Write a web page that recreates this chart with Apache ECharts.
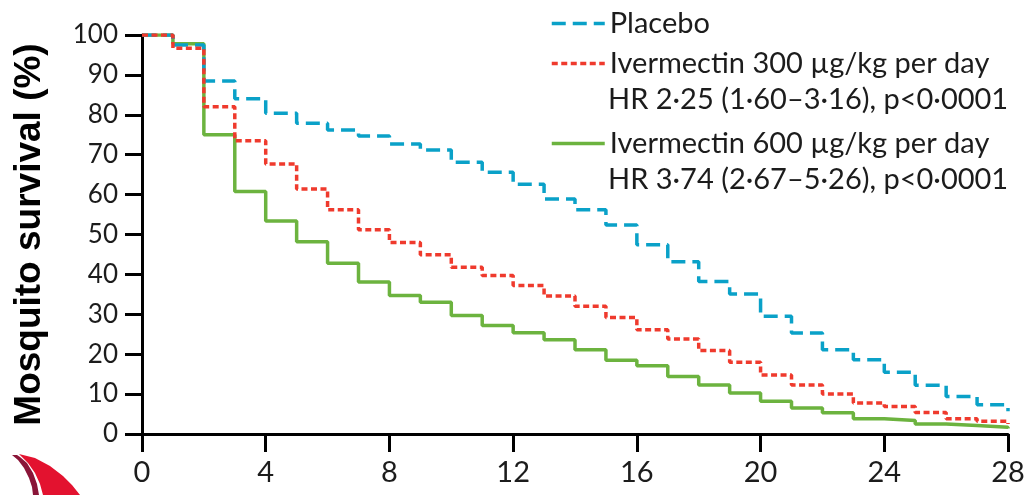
<!DOCTYPE html>
<html><head><meta charset="utf-8">
<script src="https://cdn.jsdelivr.net/npm/echarts@6/dist/echarts.min.js"></script>
<style>html,body{margin:0;padding:0;background:#fff}#c{width:1024px;height:495px}</style>
</head><body><div id="c"></div>
<script>
const days = [0,1,2,3,4,5,6,7,8,9,10,11,12,13,14,15,16,17,18,19,20,21,22,23,24,25,26,27,28];
const placebo = [100,97.5,88.5,84.0,80.4,77.9,76.2,74.7,72.7,71.2,68.1,65.6,62.6,58.9,56.2,52.4,47.4,43.2,38.2,35.1,29.5,25.3,21.1,18.6,15.5,12.2,9.4,7.3,5.7];
const ivm300 = [100,96.7,82.0,73.5,67.7,61.4,56.2,51.2,48.0,44.9,41.8,39.7,37.2,34.6,32.0,29.2,26.1,23.8,20.9,18.0,14.8,12.3,10.0,7.8,6.9,5.4,3.8,3.2,2.5];
const ivm600 = [100,97.8,75.0,60.8,53.4,48.2,42.8,38.1,34.7,33.0,29.7,27.2,25.4,23.6,21.1,18.5,17.1,14.4,12.3,10.3,8.2,6.5,5.3,3.8,3.4,2.5,2.1,1.7,1.4];
const seriesNames = ['Placebo','Ivermectin 300 µg/kg per day','Ivermectin 600 µg/kg per day'];
const hrTexts = ['HR 2·25 (1·60–3·16), p<0·0001','HR 3·74 (2·67–5·26), p<0·0001'];
const yAxisTitle = 'Mosquito survival (%)';

const C_BLUE = '#0aa1c8', C_RED = '#ef3a2d', C_GREEN = '#6cb33f';
const DASH_BLUE = [14,7], DASH_RED = [6,3.5];
const txt = '#1c1c1c';
const chart = echarts.init(document.getElementById('c'), null, {renderer:'canvas'});
const pts = v => days.map((d,i)=>[d, v[i]]);
const legendBase = {orient:'vertical', left:545, itemWidth:53, itemHeight:14, selectedMode:false,
  itemStyle:{opacity:0},
  textStyle:{fontFamily:'Lato', fontSize:29, color:txt}};
chart.setOption({
  animation:false,
  grid:{left:142, right:16, top:35, bottom:61, containLabel:false, outerBoundsMode:'none'},
  legend:[
    Object.assign({}, legendBase, {data:[seriesNames[0]], top:4, lineStyle:{width:3.5, type:DASH_BLUE, color:C_BLUE}}),
    Object.assign({}, legendBase, {data:[seriesNames[1]], top:44, lineStyle:{width:3.5, type:DASH_RED, color:C_RED}}),
    Object.assign({}, legendBase, {data:[seriesNames[2]], top:124, lineStyle:{width:3.5, type:'solid', color:C_GREEN}})
  ],
  xAxis:{type:'value', min:0, max:28, interval:4,
    axisLine:{show:true, lineStyle:{color:'#000', width:3}},
    axisTick:{show:true, length:18, lineStyle:{color:'#000', width:3}},
    axisLabel:{fontFamily:'Lato', fontSize:29, color:txt, margin:24},
    splitLine:{show:false}},
  yAxis:{type:'value', min:0, max:100, interval:10,
    name:yAxisTitle, nameLocation:'middle', nameRotate:90, nameGap:94,
    nameTextStyle:{fontFamily:'Liberation Sans', fontWeight:'bold', fontSize:37, color:'#000'},
    axisLine:{show:true, lineStyle:{color:'#000', width:3}},
    axisTick:{show:true, length:17, lineStyle:{color:'#000', width:3}},
    axisLabel:{fontFamily:'Lato', fontSize:26, color:txt, margin:24},
    splitLine:{show:false}},
  series:[
    {name:seriesNames[2], type:'line', step:'end', symbol:'none', data:pts(ivm600), z:2,
      itemStyle:{color:C_GREEN}, lineStyle:{color:C_GREEN, width:3.5, type:'solid'}},
    {name:seriesNames[0], type:'line', step:'end', symbol:'none', data:pts(placebo), z:3,
      itemStyle:{color:C_BLUE}, lineStyle:{color:C_BLUE, width:3.5, type:DASH_BLUE}},
    {name:seriesNames[1], type:'line', step:'end', symbol:'none', data:pts(ivm300), z:4,
      itemStyle:{color:C_RED}, lineStyle:{color:C_RED, width:3.5, type:DASH_RED}}
  ],
  graphic:[
    {type:'text', x:608, y:100, style:{text:hrTexts[0], fontFamily:'Lato', fontSize:29, fill:txt, verticalAlign:'middle'}},
    {type:'text', x:608, y:180, style:{text:hrTexts[1], fontFamily:'Lato', fontSize:29, fill:txt, verticalAlign:'middle'}},
    {type:'polygon', shape:{points:[[12,455],[18,460],[24,468],[29,478],[32,487],[33,495],[39,495],[37,484],[33,473],[27,463],[20,457],[17,455]]}, style:{fill:'#8a1538'}},
    {type:'polygon', shape:{points:[[19,454],[35,458],[50,466],[63,476],[72,485],[80,495],[43,495],[40,484],[35,473],[28,463]]}, style:{fill:'#e3122f'}}
  ]
});
</script></body></html>
